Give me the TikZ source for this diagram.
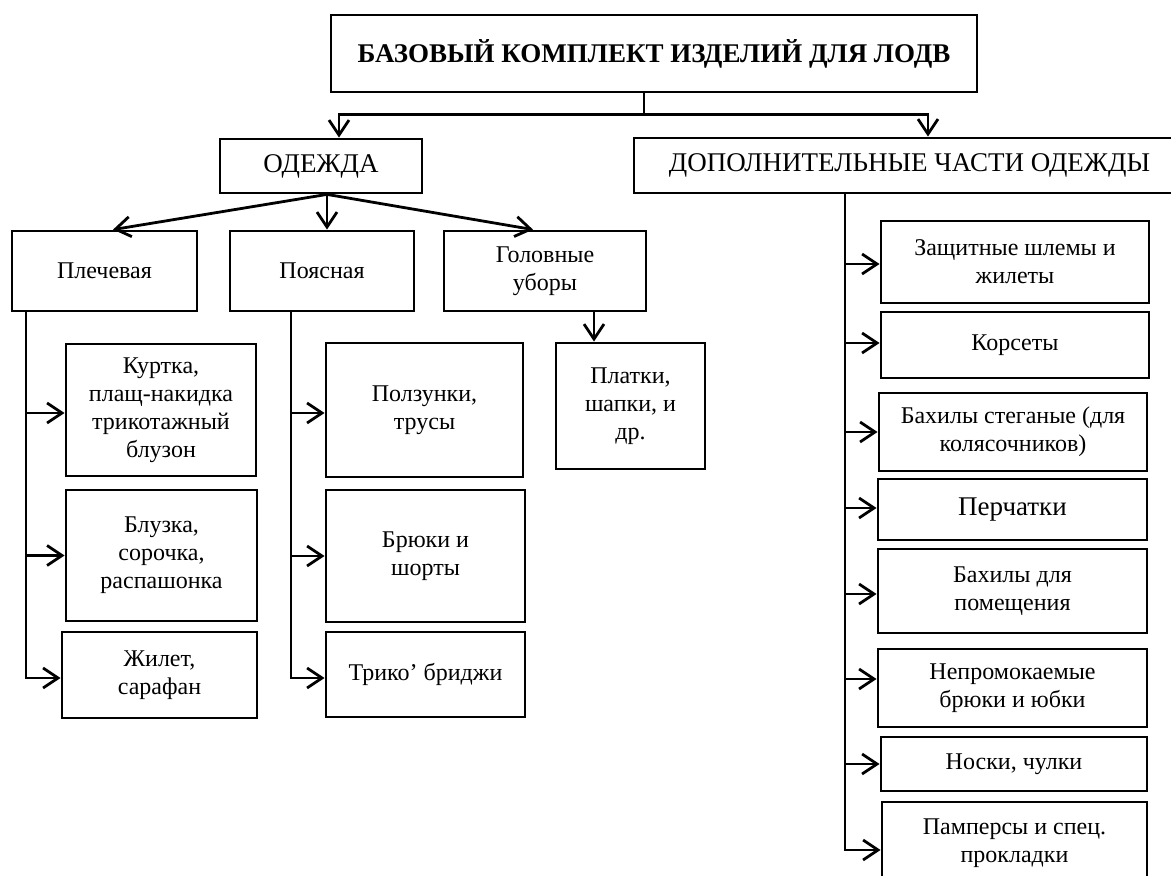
\documentclass[tikz,border=0pt]{standalone}
\usepackage{fontspec}
\setmainfont{Liberation Serif}
\usetikzlibrary{arrows.meta}
\begin{document}
\begin{tikzpicture}[x=1pt,y=-1pt,
  box/.style={draw, line width=2.8pt, rectangle, inner sep=2pt, align=center,
    font=\fontsize{24}{28}\selectfont},
  lvl/.style={font=\fontsize{27}{32}\selectfont},
  arr/.style={line width=2.8pt, -{Straight Barb[length=15pt,width=20pt]}},
  ln/.style={line width=2.8pt}]
\useasboundingbox (0,0) rectangle (1171,876);

% level 0
\node[box, font=\fontsize{27}{32}\selectfont\bfseries, minimum width=646pt, minimum height=77pt] (title) at (654,53.5) {БАЗОВЫЙ КОМПЛЕКТ ИЗДЕЛИЙ ДЛЯ ЛОДВ};
% level 1
\node[box, lvl, minimum width=202pt, minimum height=54pt] (odezhda) at (321,166) {ОДЕЖДА};
\node[box, lvl, minimum width=551pt, minimum height=55pt] (dop) at (909.5,165.5) {ДОПОЛНИТЕЛЬНЫЕ ЧАСТИ ОДЕЖДЫ};
% level 2
\node[box, minimum width=185pt, minimum height=80pt] (plech) at (104.5,271) {Плечевая};
\node[box, minimum width=184pt, minimum height=80pt] (poyas) at (322,271) {Поясная};
\node[box, minimum width=202pt, minimum height=80pt] (golov) at (545,271) {Головные\\уборы};
% level 3 left
\node[box, minimum width=190pt, minimum height=132pt] (kurtka) at (161,410) {Куртка,\\плащ-накидка\\трикотажный\\блузон};
\node[box, minimum width=191pt, minimum height=131pt] (bluzka) at (161.5,555.5) {Блузка,\\сорочка,\\распашонка};
\node[box, minimum width=195pt, minimum height=86pt] (zhilet) at (159.5,675) {Жилет,\\сарафан};
\node[box, minimum width=197pt, minimum height=134pt] (polz) at (424.5,410) {Ползунки,\\трусы};
\node[box, minimum width=199pt, minimum height=132pt] (bryuki) at (425.5,556) {Брюки и\\шорты};
\node[box, minimum width=199pt, minimum height=85pt] (triko) at (425.5,674.5) {Трико’ бриджи};
\node[box, minimum width=149pt, minimum height=126pt] (platki) at (630.5,406) {Платки,\\шапки, и\\др.};
% right column
\node[box, minimum width=268pt, minimum height=82pt] (zasch) at (1015,262) {Защитные шлемы и\\жилеты};
\node[box, minimum width=268pt, minimum height=66pt] (korset) at (1015,345) {Корсеты};
\node[box, minimum width=268pt, minimum height=78pt] (bahst) at (1013,432) {Бахилы стеганые (для\\колясочников)};
\node[box, lvl, minimum width=269pt, minimum height=61pt] (perch) at (1012.5,509.5) {Перчатки};
\node[box, minimum width=269pt, minimum height=84pt] (bahpom) at (1012.5,591) {Бахилы для\\помещения};
\node[box, minimum width=269pt, minimum height=78pt] (neprom) at (1012.5,688) {Непромокаемые\\брюки и юбки};
\node[box, minimum width=266pt, minimum height=54pt] (noski) at (1014,764) {Носки, чулки};
\node[box, minimum width=265pt, minimum height=82pt] (pamp) at (1014.5,843) {Памперсы и спец.\\прокладки};

% top connectors
\draw[ln] ([xshift=-10pt]title.south) -- ++(0,21) coordinate (hub);
\draw[arr] (hub) -| ([xshift=18pt]odezhda.north);
\draw[arr] (hub) -| ([xshift=18.5pt]dop.north);

% odezhda fan
\coordinate (od) at ([xshift=6pt]odezhda.south);
\draw[arr] (od) -- ([xshift=8.5pt]plech.north);
\draw[arr] (od) -- ([xshift=5pt]poyas.north);
\draw[arr] (od) -- ([xshift=-12pt]golov.north);

% golov -> platki
\coordinate (gp) at ([xshift=49pt]golov.south);
\draw[arr] (gp) -- (gp |- platki.north);

% plech spine
\coordinate (pl) at (26,0);
\coordinate (k1) at ([yshift=-3pt]kurtka.west);
\coordinate (k2) at (bluzka.west);
\coordinate (k3) at ([yshift=-3pt]zhilet.west);
\draw[arr] (plech.south -| pl) |- (k3);
\draw[arr] (k1 -| pl) -- (k1);
\draw[arr] (k2 -| pl) -- (k2);

% poyas spine
\coordinate (py) at (291,0);
\coordinate (p1) at ([yshift=-3pt]polz.west);
\coordinate (p2) at (bryuki.west);
\coordinate (p3) at ([yshift=-3.5pt]triko.west);
\draw[arr] (poyas.south -| py) |- (p3);
\draw[arr] (p1 -| py) -- (p1);
\draw[arr] (p2 -| py) -- (p2);

% right spine
\coordinate (sp) at (845,0);
\coordinate (r1) at ([yshift=-2pt]zasch.west);
\coordinate (r2) at ([yshift=2pt]korset.west);
\coordinate (r3) at (bahst.west);
\coordinate (r4) at ([yshift=1.5pt]perch.west);
\coordinate (r5) at ([yshift=-3pt]bahpom.west);
\coordinate (r6) at ([yshift=9pt]neprom.west);
\coordinate (r7) at (noski.west);
\coordinate (r8) at ([yshift=-7pt]pamp.west);
\draw[arr] (dop.south -| sp) |- (r8);
\foreach \r in {r1,r2,r3,r4,r5,r6,r7}
  \draw[arr] (\r -| sp) -- (\r);
\end{tikzpicture}
\end{document}
